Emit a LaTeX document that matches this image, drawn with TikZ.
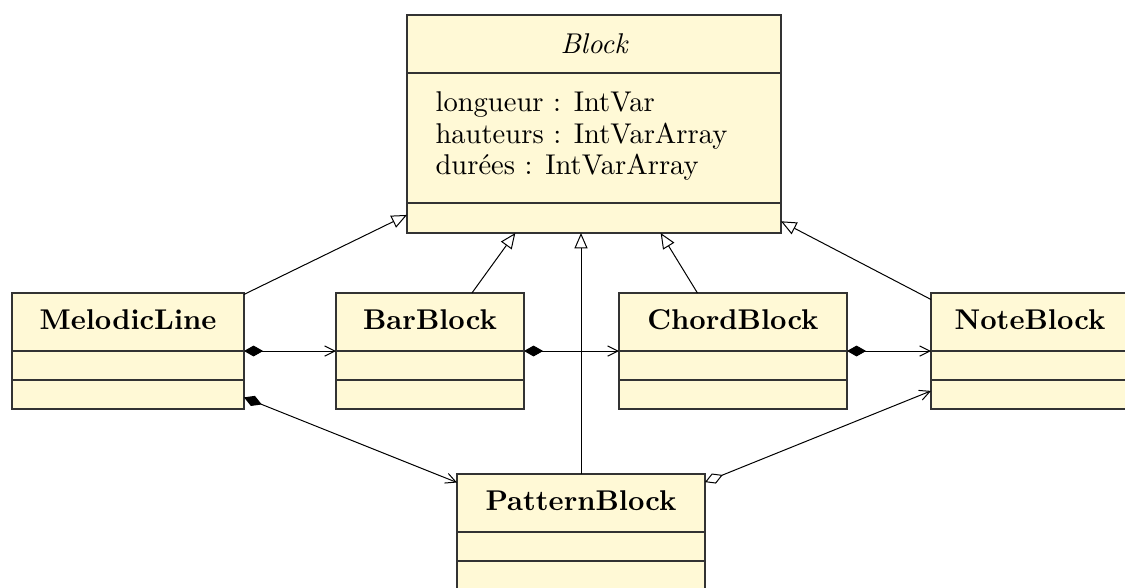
\documentclass[tikz,border=0pt]{standalone}
\usetikzlibrary{arrows.meta,fit}
\definecolor{classfill}{RGB}{255,249,214}
\tikzset{
  x=0.35pt, y=-0.35pt,
  classbox/.style={draw=black!80, fill=classfill, inner sep=0pt, outer sep=0pt, line width=0.4pt},
  sep/.style={draw=black!80, line width=0.4pt},
  cname/.style={font=\bfseries, inner sep=0pt},
  cnameabstract/.style={font=\itshape, inner sep=0pt},
  attr/.style={anchor=base west, inner sep=0pt},
  link/.style={line width=0.35pt},
  inherit/.style={link, -{Triangle[open,length=5.4pt,width=4.6pt]}},
  compose/.style={link, {Diamond[length=6.7pt,width=3.8pt]}-{Straight Barb[length=3.6pt,width=3.6pt]}},
  aggregate/.style={link, {Diamond[open,length=6.7pt,width=3.8pt]}-{Straight Barb[length=3.6pt,width=3.6pt]}},
}
\begin{document}
\begin{tikzpicture}
  \clip (0,0) rectangle (1125,587);

  % abstract base class
  \node[classbox, fit={(407,15) (781,233)}] (block) {};
  \draw[sep] (407,73) -- (781,73);
  \draw[sep] (407,203) -- (781,203);
  \node[cnameabstract] (blockname) at (594,44) {Block};
  \node[attr] (a1) at (435,111) {longueur : IntVar};
  \node[attr] (a2) at (435,143) {hauteurs : IntVarArray};
  \node[attr] (a3) at (435,174) {durées : IntVarArray};

  % MelodicLine
  \node[classbox, fit={(12,293) (244,409)}] (mel) {};
  \draw[sep] (12,351) -- (244,351);
  \draw[sep] (12,380) -- (244,380);
  \node[cname] (melname) at (128,320) {MelodicLine};

  % BarBlock
  \node[classbox, fit={(336,293) (524,409)}] (bar) {};
  \draw[sep] (336,351) -- (524,351);
  \draw[sep] (336,380) -- (524,380);
  \node[cname] (barname) at (430,320) {BarBlock};

  % ChordBlock
  \node[classbox, fit={(619,293) (847,409)}] (chord) {};
  \draw[sep] (619,351) -- (847,351);
  \draw[sep] (619,380) -- (847,380);
  \node[cname] (chordname) at (733,320) {ChordBlock};

  % NoteBlock
  \node[classbox, fit={(931,293) (1129,409)}] (note) {};
  \draw[sep] (931,351) -- (1129,351);
  \draw[sep] (931,380) -- (1129,380);
  \node[cname] (notename) at (1030,320) {NoteBlock};

  % PatternBlock
  \node[classbox, fit={(457,474) (705,590)}] (pattern) {};
  \draw[sep] (457,532) -- (705,532);
  \draw[sep] (457,561) -- (705,561);
  \node[cname] (patternname) at (581,501) {PatternBlock};

  % generalisations
  \draw[inherit] (mel) -- (block);
  \draw[inherit] (bar) -- (block);
  \draw[inherit] (chord) -- (block);
  \draw[inherit] (note) -- (block);
  \draw[inherit] (pattern.north) -- (pattern.north |- block.south);

  % compositions and aggregation
  \draw[compose] (mel) -- (bar);
  \draw[compose] (bar) -- (chord);
  \draw[compose] (chord) -- (note);
  \draw[compose] (mel) -- (pattern);
  \draw[aggregate] (pattern) -- (note);
\end{tikzpicture}
\end{document}
